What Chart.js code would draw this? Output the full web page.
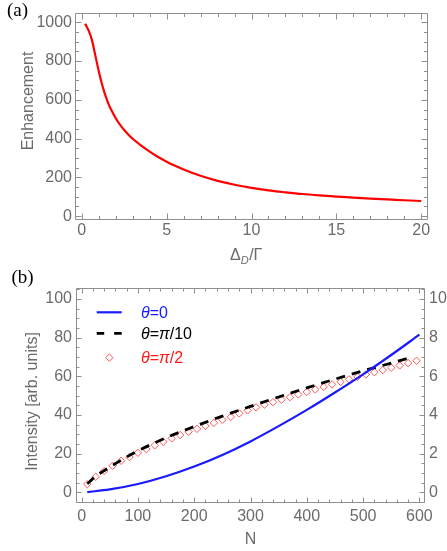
<!DOCTYPE html>
<html><head><meta charset="utf-8">
<script src="https://cdn.jsdelivr.net/npm/chart.js@4.4.1/dist/chart.umd.min.js"></script>
<style>
html,body{margin:0;padding:0;background:#fff;}
#wrap{position:relative;width:447px;height:551px;overflow:hidden;background:#fff;}
canvas{position:absolute;left:0;}
#ca{top:0;}
#cb{top:262px;}
</style></head><body>
<div id="wrap"><canvas id="ca" width="447" height="270"></canvas><canvas id="cb" width="447" height="289"></canvas></div>
<script>
// ---------- Panel (a) data ----------
const deltaD = [0.2, 0.4, 0.6, 0.8, 1.0, 1.2, 1.4, 1.6, 1.8, 2.0, 2.25, 2.5, 2.75, 3.0, 3.5, 4.0, 4.5, 5.0, 5.5, 6.0, 7.0, 8.0, 9.0, 10, 11, 12, 13, 14, 15, 16, 17, 18, 19, 20];
const enhancement = [992, 958, 908, 828, 748, 678, 620, 573, 537, 505, 472, 444, 420, 399, 364, 333, 305, 281, 260, 241, 208, 182, 162, 146, 133, 123, 114, 107, 101, 95, 90, 86, 82, 78];
const aTicksX = [0, 5, 10, 15, 20];
const aTicksY = [0, 200, 400, 600, 800, 1000];

// ---------- Panel (b) data ----------
const nTheta0 = [10, 50, 100, 150, 200, 250, 300, 350, 400, 450, 500, 550, 600];
const intTheta0 = [0.1, 1.5, 4.3, 8.3, 13.3, 19.3, 26.3, 34.2, 42.6, 51.6, 61.0, 71.0, 81.5];
const nThetaPi10 = [10, 25, 50, 75, 100, 150, 200, 250, 300, 350, 400, 450, 500, 550, 580];
const intThetaPi10 = [4.4, 8.3, 13.0, 17.4, 21.4, 28.2, 34.0, 39.4, 44.4, 49.3, 54.0, 58.5, 62.8, 66.8, 69.3];
const nThetaPi2 = [10, 25, 40, 55, 70, 85, 100, 115, 130, 145, 160, 175, 190, 205, 220, 235, 250, 265, 280, 295, 310, 325, 340, 355, 370, 385, 400, 415, 430, 445, 460, 475, 490, 505, 520, 535, 550, 565, 580, 595];
const intThetaPi2 = [4.2, 8.0, 11.0, 13.7, 16.3, 18.2, 20.4, 22.3, 24.3, 26.1, 27.9, 29.6, 31.3, 32.8, 34.3, 35.9, 37.5, 39.0, 40.8, 42.4, 43.9, 45.3, 46.6, 47.9, 49.2, 50.6, 51.9, 53.2, 54.5, 55.8, 57.1, 58.4, 59.7, 60.9, 62.1, 63.2, 64.4, 65.6, 66.8, 68.0];
const bTicksX = [0, 100, 200, 300, 400, 500, 600];
const bTicksY = [0, 20, 40, 60, 80, 100];
const bTicksY2 = [0, 2, 4, 6, 8, 10];

const legendLabels = [
  [['θ', 'italic'], ['=0', '']],
  [['θ', 'italic'], ['=', ''], ['π', 'italic'], ['/10', '']],
  [['θ', 'italic'], ['=', ''], ['π', 'italic'], ['/2', '']]
];

const FONT = '"Liberation Sans", Arial, Helvetica, sans-serif';
const SERIF = '"Liberation Serif", "Times New Roman", serif';
const LABEL = '#6b6b6b';
const FRAME = '#8f8f8f';
const BLUE = '#1a1aff';
const RED = '#ff1a1a';
const DIAMOND = 'rgba(255,70,70,0.9)';

function pts(xs, ys) { return xs.map((x, i) => ({x: x, y: ys[i]})); }
function fixTicks(vals) { return s => { s.ticks = vals.map(v => ({value: v})); }; }
function minorVals(start, end, step) { const r = []; for (let v = start; v <= end + 1e-9; v += step) r.push(+v.toFixed(6)); return r; }

function drawRich(ctx, x, y, parts, size, color) {
  ctx.fillStyle = color;
  ctx.textBaseline = 'alphabetic';
  ctx.textAlign = 'left';
  for (const p of parts) {
    ctx.font = (p[1] ? p[1] + ' ' : '') + size + 'px ' + FONT;
    ctx.fillText(p[0], x, y);
    x += ctx.measureText(p[0]).width;
  }
}

// Frame + inward ticks on every side
const frameTicks = {
  id: 'frameTicks',
  afterDraw(chart, args, o) {
    const ctx = chart.ctx, a = chart.chartArea;
    ctx.save();
    ctx.strokeStyle = FRAME; ctx.lineWidth = 1;
    const L = Math.round(a.left) + 0.5, R = Math.round(a.right) - 0.5, T = Math.round(a.top) + 0.5, B = Math.round(a.bottom) - 0.5;
    ctx.beginPath(); ctx.rect(L, T, R - L, B - T); ctx.stroke();
    ctx.beginPath();
    for (const spec of o.axes) {
      const sc = chart.scales[spec.id];
      const all = spec.major.map(v => [v, o.majorLen]).concat(spec.minor.filter(v => spec.major.indexOf(v) < 0).map(v => [v, o.minorLen]));
      for (const [v, len] of all) {
        if (v < sc.min || v > sc.max) continue;
        const p = Math.round(sc.getPixelForValue(v)) + 0.5;
        for (const side of spec.sides) {
          if (side === 'bottom') { ctx.moveTo(p, B); ctx.lineTo(p, B - len); }
          if (side === 'top') { ctx.moveTo(p, T); ctx.lineTo(p, T + len); }
          if (side === 'left') { ctx.moveTo(L, p); ctx.lineTo(L + len, p); }
          if (side === 'right') { ctx.moveTo(R, p); ctx.lineTo(R - len, p); }
        }
      }
    }
    ctx.stroke();
    ctx.restore();
    if (o.texts) o.texts(ctx, chart);
  }
};

function tickOpts(pad) {
  return { padding: pad, color: LABEL, font: { family: FONT, size: 16 }, autoSkip: false, maxRotation: 0,
           callback: v => String(v) };
}

// ---------- Chart (a) ----------
new Chart(document.getElementById('ca'), {
  type: 'line',
  data: { datasets: [{
    data: pts(deltaD, enhancement), borderColor: '#ff0000', borderWidth: 2.2,
    pointRadius: 0, fill: false, cubicInterpolationMode: 'monotone'
  }]},
  options: {
    responsive: false, animation: false, devicePixelRatio: 1,
    layout: { padding: { top: 2, right: 19, left: 0, bottom: 0 } },
    plugins: {
      legend: { display: false }, tooltip: { enabled: false },
      frameTicks: {
        majorLen: 6, minorLen: 3.5,
        axes: [
          { id: 'x', major: aTicksX, minor: minorVals(0, 20, 1), sides: ['bottom', 'top'] },
          { id: 'y', major: aTicksY, minor: minorVals(0, 1000, 50), sides: ['left', 'right'] }
        ],
        texts(ctx) {
          ctx.save();
          ctx.fillStyle = '#000'; ctx.font = '19px ' + SERIF; ctx.textBaseline = 'alphabetic';
          ctx.fillText('(a)', 7, 16);
          ctx.translate(33, 101); ctx.rotate(-Math.PI / 2);
          ctx.fillStyle = LABEL; ctx.font = '16px ' + FONT; ctx.textAlign = 'center';
          ctx.fillText('Enhancement', 0, 0);
          ctx.restore();
          ctx.save();
          let x = 230;
          ctx.fillStyle = LABEL; ctx.font = '16px ' + FONT;
          ctx.fillText('Δ', x, 260); x += ctx.measureText('Δ').width;
          ctx.font = 'italic 11px ' + FONT; ctx.fillText('D', x, 263.5); x += ctx.measureText('D').width + 0.5;
          ctx.font = '16px ' + FONT; ctx.fillText('/Γ', x, 260);
          ctx.restore();
        }
      }
    },
    scales: {
      x: { type: 'linear', min: -0.4, max: 20.4, afterBuildTicks: fixTicks(aTicksX), afterFit: s => { s.height = 50; },
           grid: { display: false, drawTicks: false }, border: { display: false }, ticks: tickOpts(1) },
      y: { type: 'linear', min: -20, max: 1050, afterBuildTicks: fixTicks(aTicksY), afterFit: s => { s.width = 75; },
           grid: { display: false, drawTicks: false }, border: { display: false }, ticks: tickOpts(3) }
    }
  },
  plugins: [frameTicks]
});

// ---------- Chart (b) ----------
const legendPlugin = {
  id: 'innerLegend',
  afterDatasetsDraw(chart) {
    const ctx = chart.ctx;
    const ds = chart.data.datasets;
    const x0 = 96.7, x1 = 121.7, tx = 141;
    const rows = [50.3, 71.3, 95.7];
    const colors = [BLUE, '#000', RED];
    ctx.save();
    ctx.strokeStyle = ds[0].borderColor; ctx.lineWidth = ds[0].borderWidth;
    ctx.beginPath(); ctx.moveTo(x0, rows[0]); ctx.lineTo(x1, rows[0]); ctx.stroke();
    ctx.strokeStyle = ds[1].borderColor; ctx.lineWidth = ds[1].borderWidth;
    ctx.beginPath(); ctx.moveTo(x0, rows[1]); ctx.lineTo(x0 + 7.5, rows[1]); ctx.moveTo(x1 - 7.5, rows[1]); ctx.lineTo(x1, rows[1]); ctx.stroke();
    ctx.fillStyle = 'rgba(0,0,0,0)';
    ctx.strokeStyle = ds[2].pointBorderColor; ctx.lineWidth = ds[2].pointBorderWidth;
    Chart.helpers.drawPoint(ctx, { pointStyle: 'rectRot', radius: ds[2].pointRadius, borderWidth: ds[2].pointBorderWidth }, 109.3, rows[2]);
    for (let i = 0; i < 3; i++) drawRich(ctx, tx, rows[i] + 5.2, legendLabels[i], 16, colors[i]);
    ctx.restore();
  }
};

new Chart(document.getElementById('cb'), {
  type: 'line',
  data: { datasets: [
    { label: 'θ=0', data: pts(nTheta0, intTheta0), borderColor: BLUE, borderWidth: 2.2, pointRadius: 0, fill: false, cubicInterpolationMode: 'monotone' },
    { label: 'θ=π/10', data: pts(nThetaPi10, intThetaPi10), borderColor: '#000', borderWidth: 2.8, borderDash: [9, 7], pointRadius: 0, fill: false, cubicInterpolationMode: 'monotone' },
    { label: 'θ=π/2', data: pts(nThetaPi2, intThetaPi2), showLine: false, pointStyle: 'rectRot', pointRadius: 3.7, pointBorderWidth: 1,
      pointBorderColor: DIAMOND, pointBackgroundColor: 'rgba(0,0,0,0)', borderColor: DIAMOND }
  ]},
  options: {
    responsive: false, animation: false, devicePixelRatio: 1,
    layout: { padding: { top: 26.3, right: 0, left: 0, bottom: 0 } },
    plugins: {
      legend: { display: false }, tooltip: { enabled: false },
      frameTicks: {
        majorLen: 5, minorLen: 3,
        axes: [
          { id: 'x', major: bTicksX, minor: minorVals(0, 600, 20), sides: ['bottom', 'top'] },
          { id: 'y', major: bTicksY, minor: minorVals(-5, 105, 5), sides: ['left'] },
          { id: 'y2', major: bTicksY2, minor: minorVals(-0.5, 10.5, 0.5), sides: ['right'] }
        ],
        texts(ctx) {
          ctx.save();
          ctx.fillStyle = '#000'; ctx.font = '19px ' + SERIF; ctx.textBaseline = 'alphabetic';
          ctx.fillText('(b)', 11.5, 20.5);
          ctx.fillStyle = LABEL; ctx.font = '16px ' + FONT; ctx.textAlign = 'center';
          ctx.fillText('N', 250.5, 281.5);
          ctx.translate(37, 139.5); ctx.rotate(-Math.PI / 2);
          ctx.fillText('Intensity [arb. units]', 0, 0);
          ctx.restore();
        }
      }
    },
    scales: {
      x: { type: 'linear', min: -10, max: 610, afterBuildTicks: fixTicks(bTicksX), afterFit: s => { s.height = 289 - 241.3; },
           grid: { display: false, drawTicks: false }, border: { display: false }, ticks: tickOpts(3.5) },
      y: { type: 'linear', position: 'left', min: -5.7, max: 105.5, afterBuildTicks: fixTicks(bTicksY), afterFit: s => { s.width = 76; },
           grid: { display: false, drawTicks: false }, border: { display: false }, ticks: tickOpts(4) },
      y2: { type: 'linear', position: 'right', min: -0.57, max: 10.55, afterBuildTicks: fixTicks(bTicksY2), afterFit: s => { s.width = 22; },
            grid: { display: false, drawTicks: false }, border: { display: false }, ticks: tickOpts(4) }
    }
  },
  plugins: [frameTicks, legendPlugin]
});
</script>
</body></html>
